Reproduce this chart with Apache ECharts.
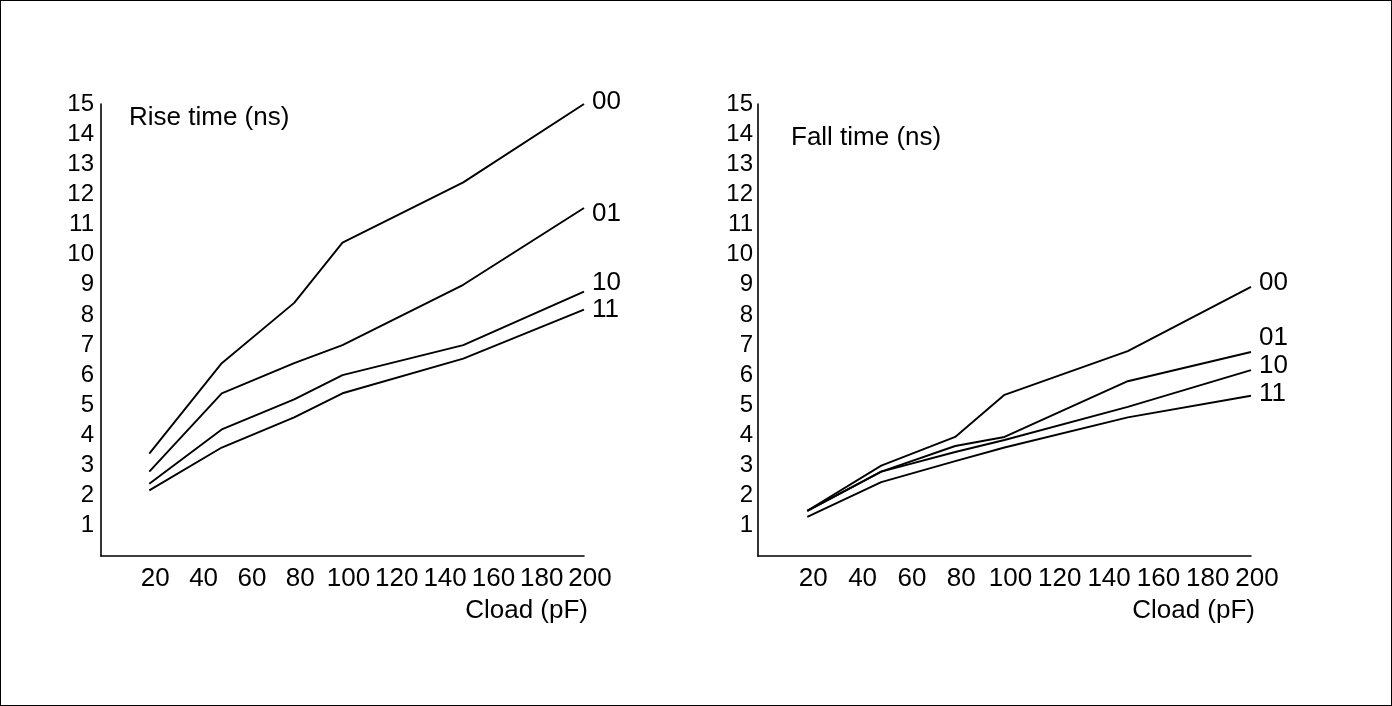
<!DOCTYPE html>
<html>
<head>
<meta charset="utf-8">
<script src="https://cdn.jsdelivr.net/npm/echarts@6/dist/echarts.min.js"></script>
<style>
  html, body { margin: 0; padding: 0; background: #fff; }
  #chart { width: 1392px; height: 706px; box-sizing: border-box; border: 1px solid #000; }
</style>
</head>
<body>
<div id="chart"></div>
<script>
// load capacitance (pF) at which the curves are sampled
const cload = [20, 50, 80, 100, 150, 200];
const codes = ["00", "01", "10", "11"];

// rise time (ns) per drive-strength code
const rise00 = [3.4, 6.4, 8.4, 10.4, 12.4, 15.0];
const rise01 = [2.8, 5.4, 6.4, 7.0, 9.0, 11.55];
const rise10 = [2.4, 4.2, 5.2, 6.0, 7.0, 8.77];
const rise11 = [2.18, 3.6, 4.6, 5.4, 6.55, 8.18];

// fall time (ns) per drive-strength code
const fall00 = [1.5, 3.0, 3.95, 5.35, 6.8, 8.93];
const fall01 = [1.5, 2.8, 3.65, 3.95, 5.8, 6.77];
const fall10 = [1.5, 2.8, 3.45, 3.85, 4.95, 6.17];
const fall11 = [1.3, 2.45, 3.15, 3.6, 4.6, 5.32];

const xTicks = [20, 40, 60, 80, 100, 120, 140, 160, 180, 200];
const yTicks = [1, 2, 3, 4, 5, 6, 7, 8, 9, 10, 11, 12, 13, 14, 15];

const FONT = "'Liberation Sans', Arial, sans-serif";
const FS = 26;    // titles, x labels, names
const FS_Y = 24;  // y tick labels

const chart = echarts.init(document.getElementById("chart"));

const pair = ys => cload.map((x, i) => [x, ys[i]]);

// small vertical nudges so the end labels don't collide
const riseShift = [-2, 6, -9, 0];
const fallShift = [-4, -14, -4, -2];

function lineSeries(name, ys, idx, dy) {
  return {
    type: "line", name,
    xAxisIndex: idx, yAxisIndex: idx,
    data: pair(ys),
    showSymbol: false, symbol: "none",
    lineStyle: { color: "#000", width: 1.9 },
    itemStyle: { color: "#000" },
    emphasis: { disabled: true },
    endLabel: {
      show: true, formatter: "{a}", color: "#000",
      fontSize: FS, fontFamily: FONT, distance: 8, offset: [0, dy],
    },
  };
}

function xAxis(idx) {
  return {
    type: "value", gridIndex: idx, min: 0, max: 200, interval: 20,
    name: "Cload (pF)", nameLocation: "end", nameGap: 4,
    nameTextStyle: {
      color: "#000", fontSize: FS, fontFamily: FONT,
      align: "right", verticalAlign: "top", padding: [42, 0, 0, 0],
    },
    axisLine: { show: true, lineStyle: { color: "#000", width: 1.6 } },
    axisTick: { show: false },
    splitLine: { show: false },
    axisLabel: {
      color: "#000", fontSize: FS, fontFamily: FONT, margin: 10,
      padding: [0, 0, 0, 12],
      formatter: v => xTicks.includes(v) ? String(v) : "",
    },
  };
}

function yAxis(idx, margin) {
  return {
    type: "value", gridIndex: idx, min: 0, max: 15, interval: 1,
    axisLine: { show: true, lineStyle: { color: "#000", width: 1.6 } },
    axisTick: { show: false },
    splitLine: { show: false },
    axisLabel: {
      color: "#000", fontSize: FS_Y, fontFamily: FONT, margin,
      formatter: v => yTicks.includes(v) ? String(v) : "",
    },
  };
}

const riseSets = [rise00, rise01, rise10, rise11];
const fallSets = [fall00, fall01, fall10, fall11];

chart.setOption({
  backgroundColor: "#fff",
  animation: false,
  title: [
    { text: "Rise time (ns)", left: 123, top: 99,
      textStyle: { color: "#000", fontSize: FS, fontWeight: "normal", fontFamily: FONT } },
    { text: "Fall time (ns)", left: 785, top: 119,
      textStyle: { color: "#000", fontSize: FS, fontWeight: "normal", fontFamily: FONT } },
  ],
  grid: [
    { left: 100, right: 1392 - 585, top: 103, bottom: 706 - 557 },
    { left: 757, right: 1392 - 1252, top: 103, bottom: 706 - 557 },
  ],
  xAxis: [xAxis(0), xAxis(1)],
  yAxis: [yAxis(0, 7), yAxis(1, 5)],
  series: [
    ...codes.map((c, i) => lineSeries(c, riseSets[i], 0, riseShift[i])),
    ...codes.map((c, i) => lineSeries(c, fallSets[i], 1, fallShift[i])),
  ],
});
</script>
</body>
</html>
